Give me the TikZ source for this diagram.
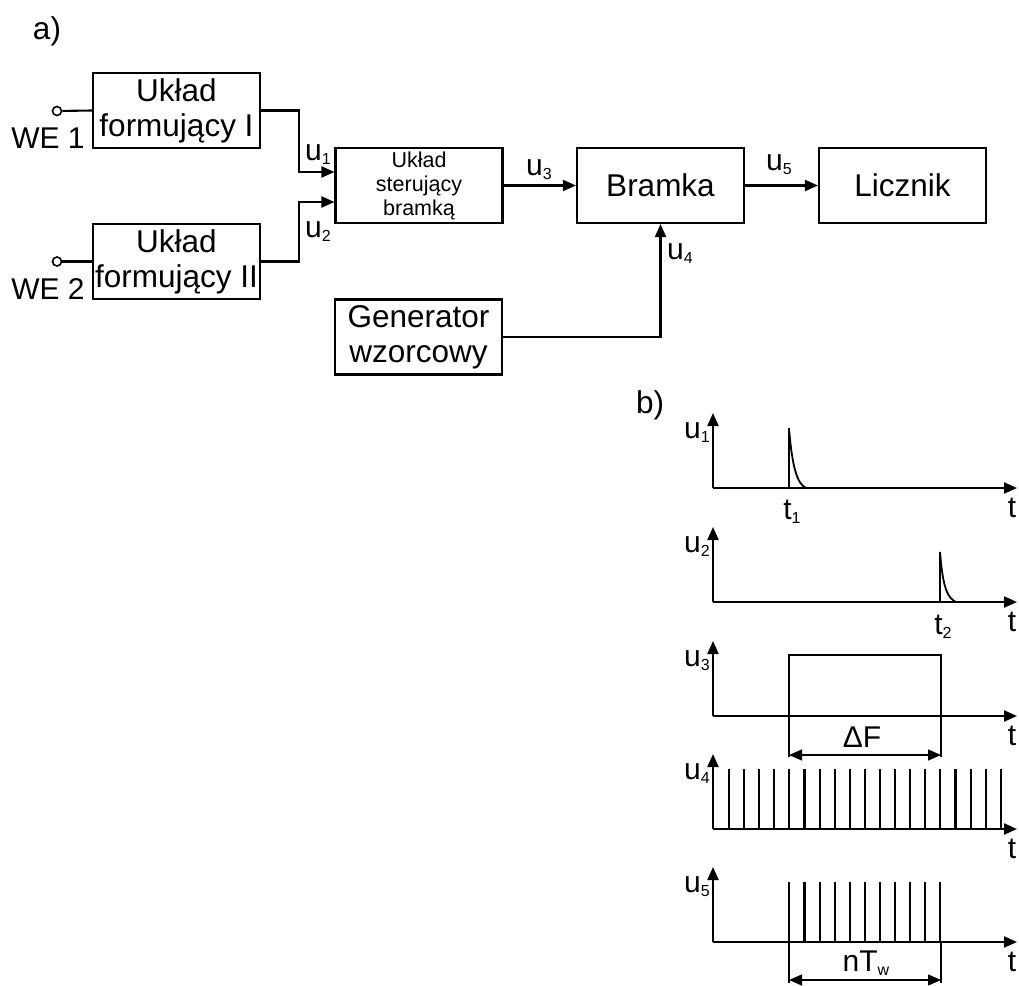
\documentclass[tikz,border=0pt]{standalone}
\usepackage{fontspec}
\setmainfont{Liberation Sans}
\usetikzlibrary{arrows.meta}
\newcommand{\sygn}[2]{#1\raisebox{-4pt}{\fontsize{16}{16}\selectfont #2}}

\begin{document}
\begin{tikzpicture}[x=1pt, y=-1pt, line width=2.1pt,
    every node/.style={font=\fontsize{31.5}{35}\selectfont, inner sep=0pt},
    blok/.style={draw, minimum width=167pt, minimum height=75pt, align=center},
    opis/.style={font=\fontsize{30}{30}\selectfont},
    strz/.style={-{Triangle[length=13pt, width=11pt]}},
    wym/.style={line width=1.2pt, {Triangle[length=13pt, width=11pt]}-{Triangle[length=13pt, width=11pt]}}]
    \useasboundingbox (0,0) rectangle (1019,985);
    % a) schemat blokowy
    \node (a) at (47,31) {a)};
    \node[blok] (form1) at (176.5,110.5) {Układ\\formujący I};
    \node[blok] (form2) at (176.5,261.5) {Układ\\formujący II};
    \node[blok, font=\fontsize{21.5}{24}\selectfont] (ster) at (419,185.5) {Układ\\sterujący\\bramką};
    \node[blok] (bram) at (660.5,185.5) {Bramka};
    \node[blok] (licz) at (902.5,185.5) {Licznik};
    \node[blok] (gen) at (418.5,337) {Generator\\wzorcowy};
    % wejscia
    \node[circle, draw, line width=1.6pt, minimum size=9pt] (we1) at (57,111) {};
    \node[circle, draw, line width=1.6pt, minimum size=9pt] (we2) at (57,261.5) {};
    \node[opis] (we1t) at (48,138) {WE 1};
    \node[opis] (we2t) at (48,289) {WE 2};
    \draw (we1) -- (form1.west);
    \draw (we2) -- (form2.west);
    % polaczenia
    \draw[strz] (form1.east) -- ++(38,0) |- ([yshift=13.5pt]ster.west);
    \draw[strz] (form2.east) -- ++(38,0) |- ([yshift=-16.5pt]ster.west);
    \draw[strz] (ster) -- (bram);
    \draw[strz] (bram) -- (licz);
    \draw[strz] (gen.east) -| (bram.south);
    \node[opis] (u1) at (318,155) {\sygn{u}{1}};
    \node[opis] (u2) at (318,232) {\sygn{u}{2}};
    \node[opis] (u3) at (539,170) {\sygn{u}{3}};
    \node[opis] (u4) at (680,254) {\sygn{u}{4}};
    \node[opis] (u5) at (779,165) {\sygn{u}{5}};
    % b) przebiegi czasowe
    \node (b) at (650,405) {b)};
    \foreach \i/\b in {1/488, 2/602, 3/716, 4/829, 5/942} {
        \draw[strz] (713,\b) -- (713,\b-75);
        \draw[strz] (713,\b) -- (1017,\b);
        \node[opis] (os\i) at (697,\b-55) {\sygn{u}{\i}};
        \node[opis] (t\i) at (1012,\b+20) {t};
    }
    % u1, u2
    \draw[line width=1.8pt] (789,488) -- (789,428) .. controls (792,466) and (797,484) .. (806,488);
    \draw[line width=1.8pt] (940,602) -- (940,552) .. controls (943,590) and (948,598) .. (956,602);
    \node[opis] (tt1) at (792,512) {\sygn{t}{1}};
    \node[opis] (tt2) at (943,627) {\sygn{t}{2}};
    % u3
    \draw (789,716) |- (941,655) -- (941,716);
    \draw[line width=1.2pt] (789,716) -- (789,757) (941,716) -- (941,757);
    \draw[wym] (789,755) -- (941,755);
    \node[opis] (df) at (862,737) {ΔF};
    % u4
    \foreach \k in {0,...,18}
    \draw (729+15.1*\k,829) -- ++(0,-60);
    % u5
    \foreach \k in {4,...,14}
    \draw (729+15.1*\k,942) -- ++(0,-60);
    \draw[line width=1.2pt] (789,942) -- (789,983) (941,942) -- (941,983);
    \draw[wym] (789,980) -- (941,980);
    \node[opis] (ntw) at (866,963) {n\sygn{T}{w}};
\end{tikzpicture}
\end{document}
